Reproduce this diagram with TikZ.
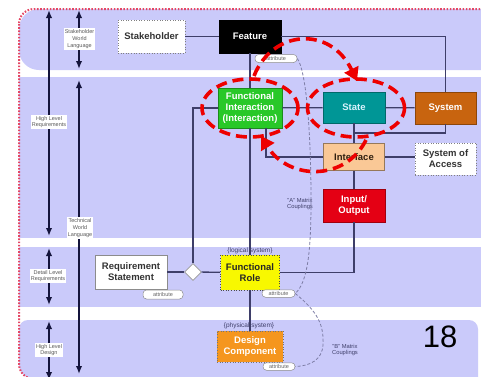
\documentclass[tikz,border=0pt]{standalone}
\usepackage{fontspec}
\setmainfont{Liberation Sans}
\usetikzlibrary{arrows.meta,shapes.geometric,calc}
\definecolor{lav}{RGB}{202,202,250}
\definecolor{conn}{RGB}{62,62,105}
\definecolor{axis}{RGB}{20,20,60}
\definecolor{framec}{RGB}{228,70,100}
\definecolor{fig}{RGB}{40,200,40}
\definecolor{teal2}{RGB}{0,150,150}
\definecolor{sysc}{RGB}{200,100,15}
\definecolor{peach}{RGB}{250,200,150}
\definecolor{ioc}{RGB}{228,0,20}
\definecolor{yel}{RGB}{248,248,0}
\definecolor{dcc}{RGB}{245,150,30}
\definecolor{dashc}{RGB}{125,125,165}
\definecolor{redd}{RGB}{238,0,0}
\tikzset{
  bx/.style={draw=#1, line width=0.6pt, align=center, inner sep=1pt,
     font=\fontsize{9.5}{11}\selectfont\bfseries},
  cn/.style={draw=conn, line width=1.3pt},
  axarrow/.style={draw=axis, line width=2.2pt, {Latex[length=8pt,width=6.5pt]}-{Latex[length=8pt,width=6.5pt]}},
  lab/.style={fill=white, font=\fontsize{5.5}{6.8}\selectfont, text=black!65, align=center, inner sep=1.2pt},
  pill/.style={draw=black!45, fill=white, rounded corners=3.5pt, line width=0.5pt, inner sep=0pt,
     font=\fontsize{5.5}{6}\selectfont, text=black!60},
  sublab/.style={font=\fontsize{6.5}{7}\selectfont, text=conn, inner sep=0pt},
  cpl/.style={font=\fontsize{5.8}{6.8}\selectfont, text=conn, align=center, inner sep=0pt},
  dcurve/.style={draw=dashc, line width=0.8pt, dash pattern=on 3pt off 2pt},
  redring/.style={draw=redd, line width=3.6pt, dash pattern=on 11pt off 6pt},
  redarrow/.style={draw=redd, line width=3.6pt, dash pattern=on 11pt off 6pt, -{Triangle[length=13pt,width=15pt]}}
}
\begin{document}
\begin{tikzpicture}[x=1pt,y=-1pt]
\useasboundingbox (0,0) rectangle (481,376);
% bands
\begin{scope}
  \clip (0,0) rectangle (481,376);
  \clip[rounded corners=15pt] (19,9) rectangle (620,379);
  \fill[lav, rounded corners=20pt] (19,9) rectangle (640,70);
  \fill[lav] (19,77) rectangle (640,238);
  \fill[lav] (19,247) rectangle (640,307);
  \fill[lav, rounded corners=9pt] (19,320) rectangle (478,420);
\end{scope}
\begin{scope}
  \clip (0,0) rectangle (481,376);
  \draw[framec, line width=2pt, dash pattern=on 1.6pt off 1.6pt, rounded corners=15pt] (19,9) rectangle (620,379);
\end{scope}

% left axis arrows
\coordinate (a1t) at (49,10);  \coordinate (a1b) at (49,236);
\coordinate (a2t) at (49,248); \coordinate (a2b) at (49,305);
\coordinate (a3t) at (49,321); \coordinate (a3b) at (49,380);
\coordinate (b1t) at (79,10);  \coordinate (b1b) at (79,69);
\coordinate (b2t) at (79,80);  \coordinate (b2b) at (79,374);
\draw[axarrow] (a1t) -- (a1b);
\draw[axarrow] (a2t) -- (a2b);
\draw[axarrow] (a3t) -- (a3b);
\draw[axarrow] (b1t) -- (b1b);
\draw[axarrow] (b2t) -- (b2b);
\node[lab] (lhlr) at (49,122) {High Level\\Requirements};
\node[lab] (ldlr) at (48,276) {Detail Level\\Requirements};
\node[lab] (lhld) at (49,350) {High Level\\Design};
\node[lab] (lswl) at (79.5,39) {Stakeholder\\World\\Language};
\node[lab] (ltwl) at (80,228) {Technical\\World\\Language};

% nodes
\node[bx=black!50, dotted, fill=white, text=black!80, minimum width=67pt, minimum height=33pt] (stake) at (151.5,36.5) {Stakeholder};
\node[bx=black, fill=black, text=white, minimum width=62pt, minimum height=33pt] (feature) at (250,36.5) {Feature};
\node[pill, minimum width=42pt, minimum height=8pt] (attrf) at (276,58.5) {attribute};
\node[bx=fig!70!black, fill=fig, text=white, minimum width=64pt, minimum height=40pt] (fi) at (250,108) {Functional\\Interaction\\(Interaction)};
\node[bx=teal2!70!black, fill=teal2, text=white!85!cyan, minimum width=62pt, minimum height=31pt] (state) at (354,107.5) {State};
\node[bx=sysc!70!black, fill=sysc, text=white, minimum width=61pt, minimum height=32pt] (system) at (445.5,108) {System};
\node[bx=peach!60!black, fill=peach, text=black!75!brown, minimum width=61pt, minimum height=27pt] (iface) at (354,157) {Interface};
\node[bx=black!50, dotted, fill=white, text=black!80, minimum width=61pt, minimum height=32pt] (soa) at (445.5,159) {System of\\Access};
\node[bx=ioc!70!black, fill=ioc, text=white, minimum width=62pt, minimum height=33pt] (io) at (354,205.5) {Input/\\Output};
\node[bx=black!45, fill=white, text=black!80, minimum width=72pt, minimum height=34pt] (rs) at (131,272) {Requirement\\Statement};
\node[pill, minimum width=40pt, minimum height=9pt] (attrrs) at (163,294.5) {attribute};
\node[diamond, draw=black!40, fill=white, line width=0.6pt, minimum width=17pt, minimum height=17pt, inner sep=0pt] (dia) at (193,272) {};
\node[bx=black!70, dotted, fill=yel, text=black!85, minimum width=59pt, minimum height=35pt] (fr) at (250,272.5) {Functional\\Role};
\node[sublab] (logic) at (250,250.5) {\{logical system\}};
\node[pill, minimum width=33pt, minimum height=7.5pt] (attrfr) at (278.5,293.5) {attribute};
\node[bx=black!55, dotted, fill=dcc, text=white, minimum width=66pt, minimum height=31pt] (dc) at (250,346.5) {Design\\Component};
\node[sublab] (phys) at (249,326) {\{physical system\}};
\node[pill, minimum width=32pt, minimum height=7.5pt] (attrdc) at (279,366.5) {attribute};
\node[cpl] (acpl) at (300,204) {"A" Matrix\\Couplings};
\node[cpl] (bcpl) at (345,350) {"B" Matrix\\Couplings};
\node[font=\fontsize{31}{31}\selectfont, inner sep=0pt] (num) at (440,337) {18};

% connectors
\coordinate (jn) at (354,133);
\coordinate (fib) at (266,128);
\draw[cn] (stake) -- (feature);
\draw[cn] (feature.east) -| (system.north);
\draw[cn] (feature) -- (fi);
\draw[cn] (fi) -- (state);
\draw[cn] (state) -- (system);
\draw[cn] (state) -- (iface);
\draw[cn] (system.south) |- (jn);
\draw[cn] (fib) |- (iface.west);
\draw[cn] (iface.east) -- (iface.east -| soa.west);
\draw[cn] (iface) -- (io);
\draw[cn] (io.south) |- (fr.east);
\draw[cn] (fi) -- (fr);
\draw[cn] (fr) -- (dc);
\draw[cn] (rs) -- (dia);
\draw[cn] (dia) -- (fr);
\draw[cn] (dia.north) |- (fi.west);

% dashed coupling curves
\draw[dcurve] (attrf.east) .. controls (306,70) and (311,130) .. (311,200)
   .. controls (311,250) and (308,282) .. (attrfr.east);
\draw[dcurve] (attrfr.east) .. controls (318,312) and (324,325) .. (323,345)
   .. controls (322,360) and (310,366) .. (attrdc.east);

% red highlight
\node[ellipse, redring, minimum width=96pt, minimum height=58pt, inner sep=0pt] (e1) at (250,108) {};
\node[ellipse, redring, minimum width=97pt, minimum height=58pt, inner sep=0pt] (e2) at (356,108) {};
\coordinate (r1s) at (254,76);
\coordinate (r1e) at (357,81);
\coordinate (r2s) at (366,140);
\coordinate (r2e) at (261,136);
\draw[redarrow] (r1s) .. controls (272,30) and (330,25) .. (r1e);
\draw[redarrow] (r2s) .. controls (345,182) and (288,180) .. (r2e);
\end{tikzpicture}
\end{document}
